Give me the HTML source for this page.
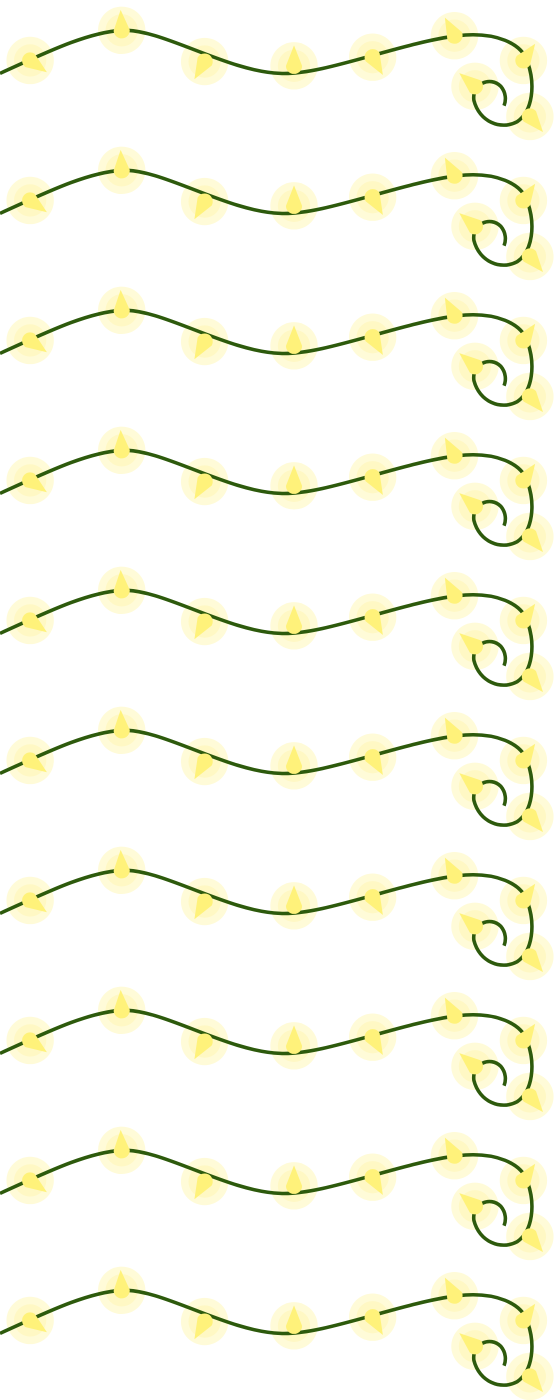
<!DOCTYPE html>
<html><head><meta charset="utf-8"><style>html,body{margin:0;padding:0;background:#fff;width:560px;height:1400px;overflow:hidden}</style></head>
<body>
<svg id="s" width="560" height="1400" viewBox="0 0 560 1400" xmlns="http://www.w3.org/2000/svg"></svg>
<script>
const rows=[0,1,2,3,4,5,6,7,8,9];
const bulbX=[28,113,190,273,346,422,486,441,492];
const bulbY=[58,30,59,63,55,35,58,82,110];
const bulbAngle=[125,-3,210,0,150,-28,35,-50,140];
const NS="http://www.w3.org/2000/svg";
const svg=document.getElementById('s');
const wire="M0,70 C40,52 80,32 113,30 C150,28 210,68 260,70 C300,72 370,42 425,35 C460,31 485,42 490,60 C497,80 495,105 480,115 C465,123 445,115 440,95 C438,80 455,72 465,82 C470,88 470,95 468,100";
rows.forEach(r=>{
  const g=document.createElementNS(NS,'g');
  
  
  g.setAttribute('transform','translate(0,'+(r*140-2)+') scale(1.077)');
  bulbX.forEach((x,i)=>{
    const c=document.createElementNS(NS,'circle');
    
    
    c.setAttribute('cx',x);c.setAttribute('cy',bulbY[i]);c.setAttribute('r',22);
    c.setAttribute('fill','#fffbd8');
    g.appendChild(c);
    const c2=document.createElementNS(NS,'circle');
    
    
    c2.setAttribute('cx',x);c2.setAttribute('cy',bulbY[i]);c2.setAttribute('r',15);
    c2.setAttribute('fill','#fff8c4');
    g.appendChild(c2);
  });
  const p=document.createElementNS(NS,'path');
  
  
  p.setAttribute('d',wire);p.setAttribute('fill','none');
  p.setAttribute('stroke','#2d5a0c');p.setAttribute('stroke-width','3.3');
  g.appendChild(p);
  bulbX.forEach((x,i)=>{
    const b=document.createElementNS(NS,'path');
    
    
    b.setAttribute('d','M-7.5,0 L0,-19 L7.5,0 A7.5,7.5 0 0 1 -7.5,0Z');
    b.setAttribute('fill','#fff27a');
    b.setAttribute('transform','translate('+x+','+bulbY[i]+') rotate('+bulbAngle[i]+')');
    g.appendChild(b);
  });
  svg.appendChild(g);
});
</script>
</body></html>
